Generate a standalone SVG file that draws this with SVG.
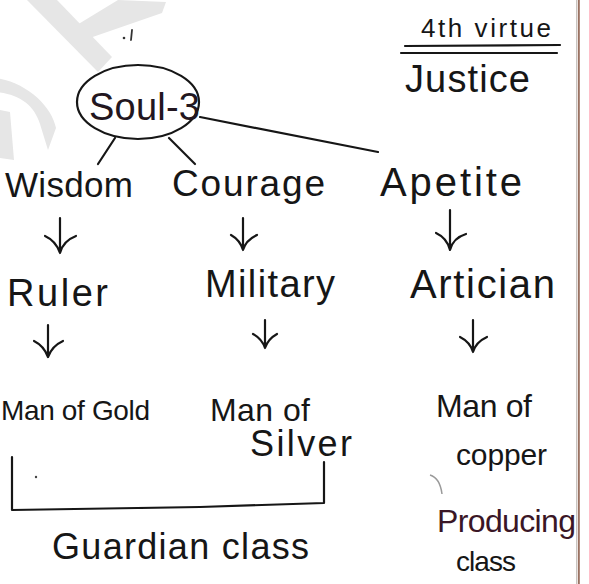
<svg xmlns="http://www.w3.org/2000/svg" width="589" height="584" viewBox="0 0 589 584">
<style>
.t{font-family:"Liberation Sans",Arial,sans-serif;fill:#161616}
.ln{fill:none;stroke:#161616;stroke-width:2.2;stroke-linecap:round;stroke-linejoin:round}
.arr{fill:none;stroke:#161616;stroke-width:2.2;stroke-linecap:round;stroke-linejoin:round}
.wm{fill:#e6e6e6;stroke:none}
</style>
<rect width="589" height="584" fill="#ffffff"/>
<!-- watermark -->
<g id="watermark">
<polygon class="wm" points="27,0 57,0 112,57 98,72"/>
<polygon class="wm" points="118,0 166,2 162,13 84,40 72,28"/>
<path d="M-4 78 C26 82 52 106 56 128 L48 150 L40 124 C34 104 18 94 -4 92 Z" class="wm"/>
<path d="M0 110 L10 112 L14 160 L0 158 Z" class="wm"/>
</g>
<!-- page edge -->
<line x1="576.5" y1="0" x2="576.5" y2="584" stroke="#c8c4c0" stroke-width="1"/>
<line x1="578.8" y1="0" x2="578.8" y2="584" stroke="#9a7262" stroke-width="2"/>
<!-- stray marks -->
<circle cx="124" cy="38" r="1.3" fill="#333"/>
<line x1="132" y1="30" x2="131" y2="40" stroke="#333" stroke-width="1.8" stroke-linecap="round"/>
<path d="M430 475 Q440 478 442 494" fill="none" stroke="#9a9a9a" stroke-width="1.5"/>
<circle cx="36" cy="477" r="1.2" fill="#444"/>

<g id="connectors">
<line class="ln" x1="115" y1="138" x2="98" y2="164"/>
<line class="ln" x1="169" y1="138" x2="195" y2="164"/>
<line class="ln" x1="200" y1="117" x2="378" y2="152"/>
<path class="arr" d="M60 218 V253 M45 236 Q56 241 60 253 Q63 241 76 236"/>
<path class="arr" d="M243 218 V250 M231 235 Q240 240 243 250 Q246 240 257 235"/>
<path class="arr" d="M450 210 V250 M436 233 Q447 238 450 250 Q453 238 466 234"/>
<path class="arr" d="M48 325 V357 M34 341 Q44 346 48 357 Q52 346 63 341"/>
<path class="arr" d="M265 320 V348 M253 334 Q262 339 265 348 Q268 339 277 334"/>
<path class="arr" d="M473 320 V352 M460 337 Q470 342 473 352 Q476 342 487 337"/>
<polyline class="ln" points="12,457 12,510 200,507 324,503 324,462" stroke-width="2.6"/>
<line class="ln" x1="405" y1="46" x2="560" y2="45"/>
<line class="ln" x1="401" y1="53" x2="557" y2="53"/>
</g>

<g id="soul">
<ellipse cx="138" cy="102" rx="61" ry="37" class="ln"/>
<text class="t" x="89" y="120" font-size="38" textLength="111" style="fill:#221620">Soul-3</text>
</g>
<g id="virtue"><text class="t" x="421" y="37" font-size="26" textLength="130">4th virtue</text></g>
<g id="justice"><text class="t" x="405" y="92" font-size="38" textLength="125">Justice</text></g>

<g id="wisdom"><text class="t" x="5" y="197" font-size="35" textLength="128">Wisdom</text></g>
<g id="courage"><text class="t" x="172" y="196" font-size="37" textLength="153">Courage</text></g>
<g id="apetite"><text class="t" x="380" y="196" font-size="40" textLength="142">Apetite</text></g>

<g id="ruler"><text class="t" x="7" y="306" font-size="38" textLength="101">Ruler</text></g>
<g id="military"><text class="t" x="205" y="297" font-size="38" textLength="130">Military</text></g>
<g id="artician"><text class="t" x="410" y="298" font-size="40" textLength="145">Artician</text></g>

<g id="gold"><text class="t" x="1" y="420" font-size="28" textLength="149">Man of Gold</text></g>
<g id="silver">
<text class="t" x="210" y="421" font-size="32" textLength="100">Man of</text>
<text class="t" x="250" y="456" font-size="36" textLength="102">Silver</text>
</g>
<g id="copper">
<text class="t" x="436" y="417" font-size="32" textLength="96">Man of</text>
<text class="t" x="456" y="465" font-size="30" textLength="91">copper</text>
</g>

<g id="guardian"><text class="t" x="52" y="559" font-size="36" textLength="257">Guardian class</text></g>
<g id="producing">
<text class="t" x="437" y="532" font-size="32" textLength="139" style="fill:#3a1626">Producing</text>
<text class="t" x="456" y="571" font-size="28" textLength="60">class</text>
</g>
</svg>
